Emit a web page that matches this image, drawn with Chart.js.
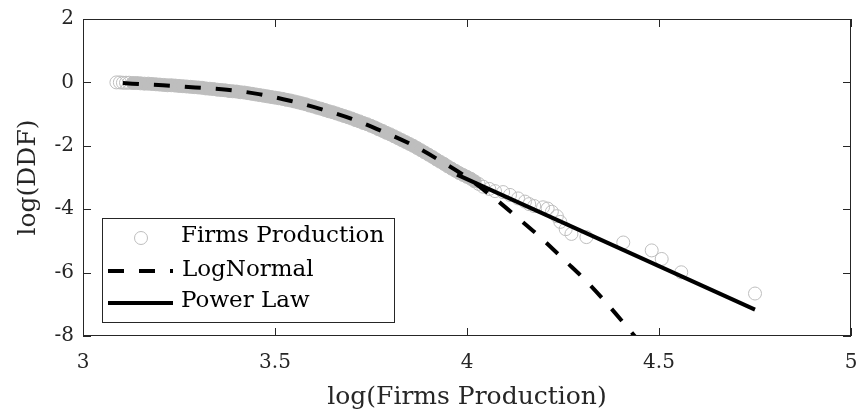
<!DOCTYPE html>
<html lang="en">
<head>
<meta charset="UTF-8">
<title>log(DDF) vs log(Firms Production)</title>
<script src="https://cdn.jsdelivr.net/npm/chart.js"></script>
<style>
  html, body { margin: 0; padding: 0; background: #fff; }
  canvas { display: block; }
</style>
</head>
<body>
<canvas id="ddfChart" width="861" height="419"></canvas>
<script>
// axis ticks
const xTicks = [3, 3.5, 4, 4.5, 5];
const xTickLabels = ['3', '3.5', '4', '4.5', '5'];
const yTicks = [-8, -6, -4, -2, 0, 2];
const yTickLabels = ['-8', '-6', '-4', '-2', '0', '2'];

const firmsX = [3.087, 3.096, 3.104, 3.112, 3.120, 3.130, 3.140, 3.150, 3.160, 3.170,
  3.180, 3.190, 3.200, 3.210, 3.220, 3.230, 3.240, 3.250, 3.260, 3.270,
  3.280, 3.290, 3.300, 3.310, 3.320, 3.330, 3.340, 3.350, 3.360, 3.370,
  3.380, 3.390, 3.400, 3.410, 3.420, 3.430, 3.440, 3.450, 3.460, 3.470,
  3.480, 3.490, 3.500, 3.510, 3.520, 3.530, 3.540, 3.550, 3.560, 3.570,
  3.580, 3.590, 3.600, 3.610, 3.620, 3.630, 3.640, 3.650, 3.660, 3.670,
  3.680, 3.690, 3.700, 3.710, 3.720, 3.730, 3.740, 3.750, 3.760, 3.770,
  3.780, 3.790, 3.800, 3.810, 3.820, 3.830, 3.840, 3.850, 3.860, 3.870,
  3.880, 3.890, 3.900, 3.910, 3.920, 3.930, 3.940, 3.950, 3.960, 3.970,
  3.980, 3.990, 4.000, 4.010, 4.020, 4.030,
  4.042, 4.058, 4.073, 4.094, 4.112, 4.133, 4.151, 4.162, 4.175, 4.198,
  4.210, 4.221, 4.234, 4.243, 4.257, 4.272, 4.311, 4.407, 4.481, 4.507,
  4.558, 4.750];
const firmsY = [0.00, 0.00, -0.01, -0.01, -0.01, -0.02, -0.02, -0.03, -0.04, -0.04,
  -0.05, -0.06, -0.07, -0.08, -0.09, -0.09, -0.10, -0.11, -0.12, -0.13,
  -0.14, -0.15, -0.16, -0.17, -0.19, -0.20, -0.21, -0.23, -0.24, -0.25,
  -0.27, -0.28, -0.29, -0.31, -0.32, -0.34, -0.36, -0.38, -0.40, -0.42,
  -0.44, -0.46, -0.48, -0.50, -0.52, -0.55, -0.57, -0.60, -0.63, -0.66,
  -0.69, -0.73, -0.76, -0.80, -0.83, -0.87, -0.91, -0.94, -0.98, -1.02,
  -1.06, -1.10, -1.14, -1.19, -1.23, -1.28, -1.32, -1.37, -1.42, -1.48,
  -1.53, -1.59, -1.64, -1.70, -1.76, -1.82, -1.88, -1.94, -2.00, -2.07,
  -2.14, -2.21, -2.28, -2.35, -2.43, -2.50, -2.57, -2.65, -2.72, -2.79,
  -2.86, -2.92, -2.98, -3.04, -3.12, -3.20,
  -3.29, -3.36, -3.43, -3.46, -3.55, -3.66, -3.76, -3.84, -3.90, -3.94,
  -3.98, -4.08, -4.22, -4.40, -4.63, -4.78, -4.88, -5.05, -5.30, -5.57,
  -5.99, -6.66];

// lognormal fit
const logNormalX = [3.104, 3.128, 3.208, 3.292, 3.375, 3.458, 3.539, 3.622, 3.700, 3.781,
  3.857, 3.930, 4.000, 4.068, 4.130, 4.195, 4.255, 4.315, 4.372, 4.440];
const logNormalY = [-0.02, -0.04, -0.09, -0.16, -0.23, -0.37, -0.58, -0.85, -1.15, -1.55,
  -1.97, -2.47, -3.00, -3.62, -4.25, -4.93, -5.62, -6.32, -7.08, -8.05];

// power law fit
const powerLawX = [3.974, 4.750];
const powerLawY = [-2.91, -7.17];

const axisColor = '#262626';
const serif = 'DejaVu Serif';

function pts(xs, ys) {
  return xs.map((x, i) => ({ x: x, y: ys[i] }));
}

// box, inward ticks and the legend, MATLAB style
const framePlugin = {
  id: 'frame',
  afterDraw(chart) {
    const { ctx, chartArea: a, scales } = chart;
    ctx.save();
    ctx.strokeStyle = axisColor;
    ctx.lineWidth = 1;
    ctx.strokeRect(a.left + 0.5, a.top + 0.5, a.right - a.left - 1, a.bottom - a.top - 1);
    ctx.beginPath();
    xTicks.forEach(v => {
      const px = Math.round(scales.x.getPixelForValue(v)) + 0.5;
      ctx.moveTo(px, a.bottom); ctx.lineTo(px, a.bottom - 8);
      ctx.moveTo(px, a.top); ctx.lineTo(px, a.top + 8);
    });
    yTicks.forEach(v => {
      const py = Math.round(scales.y.getPixelForValue(v)) + 0.5;
      ctx.moveTo(a.left, py); ctx.lineTo(a.left + 8, py);
      ctx.moveTo(a.right, py); ctx.lineTo(a.right - 8, py);
    });
    ctx.stroke();

    // legend
    const ds = chart.data.datasets;
    ctx.fillStyle = '#fff';
    ctx.fillRect(102, 218, 293, 105);
    ctx.strokeRect(102.5, 218.5, 292, 104);
    ctx.font = '23px "' + serif + '"';
    ctx.fillStyle = '#000';
    ctx.textBaseline = 'middle';
    ctx.textAlign = 'left';

    ctx.beginPath();
    ctx.strokeStyle = '#bebebe';
    ctx.arc(141, 238, 6.5, 0, Math.PI * 2);
    ctx.stroke();
    ctx.fillText(ds[0].label, 181, 236);

    ctx.strokeStyle = '#000';
    ctx.lineWidth = 4;
    ctx.setLineDash([16, 15]);
    ctx.beginPath();
    ctx.moveTo(108, 271); ctx.lineTo(173, 271);
    ctx.stroke();
    ctx.setLineDash([]);
    ctx.fillText(ds[1].label, 182, 270);

    ctx.beginPath();
    ctx.moveTo(108, 303); ctx.lineTo(173, 303);
    ctx.stroke();
    ctx.fillText(ds[2].label, 181, 301);
    ctx.restore();
  }
};

new Chart(document.getElementById('ddfChart'), {
  type: 'scatter',
  data: {
    datasets: [
      {
        label: 'Firms Production',
        data: pts(firmsX, firmsY),
        pointStyle: 'circle',
        pointRadius: 6.5,
        pointBorderWidth: 1,
        borderColor: '#bebebe',
        backgroundColor: c => (c.raw && c.raw.x > 3.125 && c.raw.x < 4.025) ? '#bebebe' : 'rgba(0,0,0,0)',
        order: 3
      },
      {
        label: 'LogNormal',
        data: pts(logNormalX, logNormalY),
        showLine: true,
        borderColor: '#000',
        borderWidth: 4,
        borderDash: [16, 15],
        tension: 0.4,
        cubicInterpolationMode: 'monotone',
        pointRadius: 0,
        order: 2
      },
      {
        label: 'Power Law',
        data: pts(powerLawX, powerLawY),
        showLine: true,
        borderColor: '#000',
        borderWidth: 4,
        pointRadius: 0,
        order: 1
      }
    ]
  },
  options: {
    responsive: false,
    animation: false,
    layout: { padding: { top: 19, right: 10, left: 0, bottom: 0 } },
    plugins: {
      legend: { display: false },
      tooltip: { enabled: false }
    },
    scales: {
      x: {
        type: 'linear',
        min: 3, max: 5,
        afterFit: s => { s.height = 83; s.paddingLeft = 0; s.paddingRight = 0; },
        afterBuildTicks: s => { s.ticks = xTicks.map(v => ({ value: v })); },
        grid: { display: false, drawTicks: false },
        border: { display: false },
        ticks: {
          padding: 15,
          color: axisColor,
          font: { family: serif, size: 20 },
          callback: (v) => xTickLabels[xTicks.indexOf(v)]
        },
        title: {
          display: true,
          text: 'log(Firms Production)',
          color: axisColor,
          font: { family: serif, size: 25 },
          padding: { top: 0, bottom: 7 }
        }
      },
      y: {
        type: 'linear',
        min: -8, max: 2,
        afterFit: s => { s.width = 83; s.paddingTop = 0; s.paddingBottom = 0; },
        afterBuildTicks: s => { s.ticks = yTicks.map(v => ({ value: v })); },
        grid: { display: false, drawTicks: false },
        border: { display: false },
        ticks: {
          padding: 9,
          color: axisColor,
          font: { family: serif, size: 20 },
          callback: (v) => yTickLabels[yTicks.indexOf(v)]
        },
        title: {
          display: true,
          text: 'log(DDF)',
          color: axisColor,
          font: { family: serif, size: 25 },
          padding: { top: 13, bottom: 0 }
        }
      }
    }
  },
  plugins: [framePlugin]
});
</script>
</body>
</html>
